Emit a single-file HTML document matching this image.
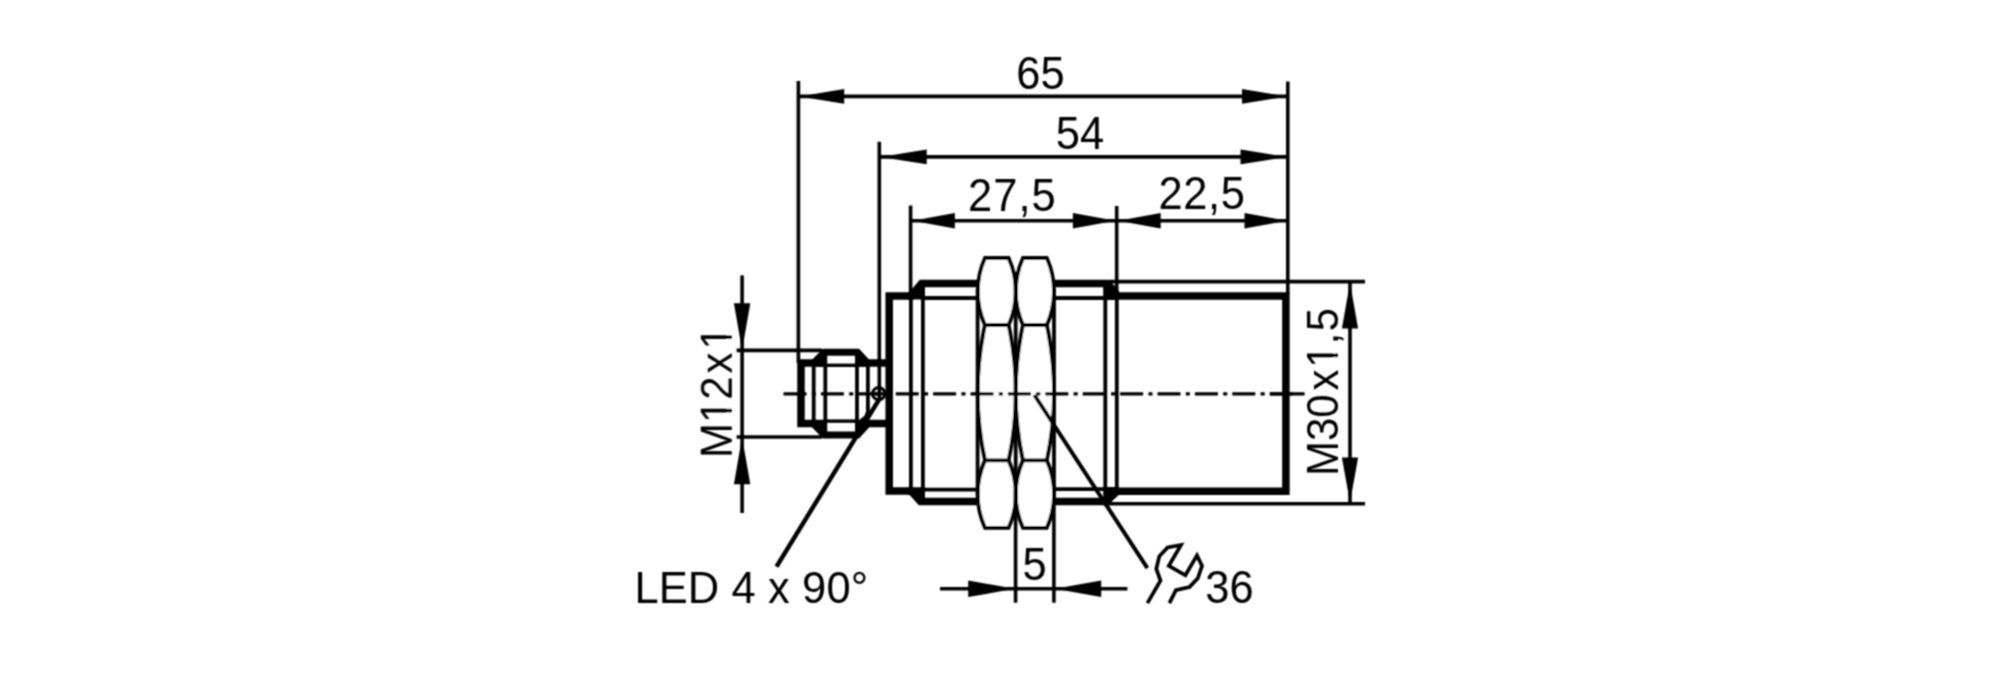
<!DOCTYPE html>
<html><head><meta charset="utf-8"><title>Dimension drawing</title>
<style>
html,body{margin:0;padding:0;background:#fff;}
body{width:2000px;height:675px;overflow:hidden;}
svg{display:block;}
svg text{font-family:"Liberation Sans",Arial,Helvetica,sans-serif;font-size:43.5px;fill:#000;stroke:none;}
</style></head>
<body>
<svg width="2000" height="675" viewBox="0 0 2000 675">
<defs><filter id="soft" x="0" y="0" width="2000" height="675" filterUnits="userSpaceOnUse"><feConvolveMatrix order="3" kernelMatrix="1 2 1 2 4 2 1 2 1" divisor="16" edgeMode="duplicate" preserveAlpha="false"/></filter></defs>
<rect x="0" y="0" width="2000" height="675" fill="#fff"/>
<g filter="url(#soft)">
<g stroke="#000" fill="none" stroke-linecap="butt">
<line x1="798.4" y1="81.1" x2="798.4" y2="363" stroke-width="3.6" />
<line x1="879.3" y1="141.7" x2="879.3" y2="400" stroke-width="3.6" />
<line x1="910.6" y1="205.5" x2="910.6" y2="296" stroke-width="3.6" />
<line x1="1116.7" y1="206" x2="1116.7" y2="296" stroke-width="3.6" />
<line x1="1287.8" y1="81.5" x2="1287.8" y2="294" stroke-width="3.6" />
<line x1="798.4" y1="96.4" x2="1287.8" y2="96.4" stroke-width="3.6" />
<polygon points="799.2,96.4 844.2,89.0 844.2,103.80000000000001" fill="#000" stroke="none"/>
<polygon points="1287,96.4 1242.0,103.80000000000001 1242.0,89.0" fill="#000" stroke="none"/>
<line x1="879.3" y1="156.9" x2="1287.8" y2="156.9" stroke-width="3.6" />
<polygon points="880.2,156.9 926.7,149.5 926.7,164.3" fill="#000" stroke="none"/>
<polygon points="1287,156.9 1240.5,164.3 1240.5,149.5" fill="#000" stroke="none"/>
<line x1="910.8" y1="220.8" x2="1287.8" y2="220.8" stroke-width="3.6" />
<polygon points="912.4,220.8 954.9,213.10000000000002 954.9,228.5" fill="#000" stroke="none"/>
<polygon points="1115.4,220.8 1072.9,228.5 1072.9,213.10000000000002" fill="#000" stroke="none"/>
<polygon points="1118.2,220.8 1160.7,213.10000000000002 1160.7,228.5" fill="#000" stroke="none"/>
<polygon points="1287,220.8 1244.5,228.5 1244.5,213.10000000000002" fill="#000" stroke="none"/>
<polyline points="911,296 889.2,296 889.2,491 911,491" stroke-width="7.5" fill="none" stroke-linejoin="miter"/>
<polyline points="908,296 911,296 921.5,283.6 980,283.6" stroke-width="7.5" fill="none" />
<polyline points="1052,283.6 1106,283.6 1117,295" stroke-width="7.5" fill="none" />
<polyline points="908,491 911,491 920.5,501.4 980,501.4" stroke-width="7.5" fill="none" />
<polyline points="1052,501.5 1106,501.6 1117,491.5" stroke-width="7.5" fill="none" />
<polygon points="908,299.6 908,292.2 911.5,292.2 921.2,280 924.8,280 924.8,299.6" fill="#000" stroke="none"/>
<polygon points="908,487.2 924.8,487.2 924.8,505 919.8,505 909.7,494.6 908,494.6" fill="#000" stroke="none"/>
<polygon points="1103.5,280 1109,280 1118.5,290 1118.5,300 1103.5,300" fill="#000" stroke="none"/>
<polygon points="1103.5,505.2 1108,505.2 1118.5,494 1118.5,487 1103.5,487" fill="#000" stroke="none"/>
<line x1="922.9" y1="298" x2="980" y2="298" stroke-width="3.8" />
<line x1="1052" y1="298" x2="1105" y2="298" stroke-width="3.8" />
<line x1="922.9" y1="489.6" x2="980" y2="489.6" stroke-width="3.8" />
<line x1="1052" y1="489.2" x2="1105" y2="489.2" stroke-width="3.8" />
<line x1="910.9" y1="296" x2="910.9" y2="491" stroke-width="3.8" />
<line x1="922.9" y1="284" x2="922.9" y2="501" stroke-width="3.8" />
<line x1="1105.3" y1="284" x2="1105.3" y2="501" stroke-width="3.8" />
<line x1="1116.8" y1="296" x2="1116.8" y2="491" stroke-width="3.8" />
<polyline points="1113,296 1285.9,296 1285.9,491.2 1113,491.2" stroke-width="7.5" fill="none" stroke-linejoin="miter"/>
<line x1="1108" y1="281.6" x2="1365" y2="281.6" stroke-width="3.6" />
<line x1="1108" y1="503.7" x2="1365" y2="503.7" stroke-width="3.6" />
<line x1="1350" y1="282" x2="1350" y2="503" stroke-width="3.6" />
<polygon points="1350,282.8 1358.1,328.6 1341.9,328.6" fill="#000" stroke="none"/>
<polygon points="1350,502.4 1341.9,457.4 1358.1,457.4" fill="#000" stroke="none"/>
<path d="M985.0,258 L1008.5999999999999,258 A81.5,81.5 0 0 1 1008.5999999999999,325 L985.0,325 A81.5,81.5 0 0 1 985.0,258 Z M985.0,325 A322,322 0 0 0 985.0,460.4 L1008.5999999999999,460.4 A322,322 0 0 0 1008.5999999999999,325 M985.0,460.4 A81.5,81.5 0 0 0 985.0,527.8 L1008.5999999999999,527.8 A81.5,81.5 0 0 0 1008.5999999999999,460.4" fill="#fff" stroke-width="3.8" stroke-linejoin="miter"/>
<path d="M1023.0,258 L1046.8,258 A81.5,81.5 0 0 1 1046.8,325 L1023.0,325 A81.5,81.5 0 0 1 1023.0,258 Z M1023.0,325 A322,322 0 0 0 1023.0,460.4 L1046.8,460.4 A322,322 0 0 0 1046.8,325 M1023.0,460.4 A81.5,81.5 0 0 0 1023.0,527.8 L1046.8,527.8 A81.5,81.5 0 0 0 1046.8,460.4" fill="#fff" stroke-width="3.8" stroke-linejoin="miter"/>
<line x1="977.6" y1="289" x2="977.6" y2="497" stroke-width="3.8" />
<line x1="1015.7" y1="272" x2="1015.7" y2="514" stroke-width="3.8" />
<line x1="1054" y1="289" x2="1054" y2="497" stroke-width="3.8" />
<line x1="783.5" y1="393.85" x2="1293" y2="393.85" stroke-width="3.3" stroke-dasharray="23 5.3 4.1 5"/>
<line x1="1270" y1="393.85" x2="1304.6" y2="393.85" stroke-width="3.3" />
<line x1="736.6" y1="350.4" x2="822" y2="350.4" stroke-width="3.6" />
<line x1="736.6" y1="437" x2="822" y2="437" stroke-width="3.6" />
<line x1="742.1" y1="275.4" x2="742.1" y2="513" stroke-width="3.6" />
<polygon points="742.1,350.2 733.9,303.2 750.3000000000001,303.2" fill="#000" stroke="none"/>
<polygon points="742.1,437.2 750.3000000000001,484.2 733.9,484.2" fill="#000" stroke="none"/>
<polyline points="827,363.1 801,363.1 801,423.4 827,423.4" stroke-width="7.5" fill="none" stroke-linejoin="miter"/>
<line x1="855.5" y1="363.1" x2="889" y2="363.1" stroke-width="7.5" />
<line x1="855.5" y1="423.4" x2="889" y2="423.4" stroke-width="7.5" />
<line x1="825.5" y1="365.3" x2="857" y2="365.3" stroke-width="3.4" />
<line x1="825.5" y1="421.1" x2="857" y2="421.1" stroke-width="3.4" />
<polygon points="812.2,359.6 822.9,348.8 859,348.8 869.1,359.6 869.1,366.7 855.2,366.7 855.2,355.7 827,355.7 827,366.7 812.2,366.7" fill="#000" stroke="none"/>
<polygon points="812.2,427.5 822.9,438.6 859,438.6 869.1,427.5 869.1,420 855.2,420 855.2,431.6 827,431.6 827,420 812.2,420" fill="#000" stroke="none"/>
<line x1="813.7" y1="363" x2="813.7" y2="423.5" stroke-width="3.8" />
<line x1="825.3" y1="352.5" x2="825.3" y2="435" stroke-width="3.8" />
<line x1="857" y1="352.5" x2="857" y2="435" stroke-width="3.8" />
<polyline points="867.9,363 867.9,412 866,417 861,421" stroke-width="3.8" fill="none" />
<circle cx="878.7" cy="393.7" r="6.1" stroke-width="3" fill="none"/>
<line x1="879.0" y1="399.6" x2="776.5" y2="566.6" stroke-width="4.5" />
<line x1="872" y1="393.85" x2="885.5" y2="393.85" stroke-width="3.0" />
<line x1="1034.4" y1="395" x2="1147.4" y2="568.2" stroke-width="4.0" />
<polyline points="1147.4,603.1 1160.5,580.6 1156.3,568.8 1159.3,556.3 1167.6,547.4 1181,545 1168.8,565.8 1185.4,575.3 1197,555.4 1202,565.8 1197.8,578.3 1189.5,587.1 1175.9,590.1 1169.4,603.1" stroke-width="3.7" fill="none" stroke-linejoin="miter" stroke-miterlimit="6"/>
<line x1="1015.6" y1="490" x2="1015.6" y2="602.7" stroke-width="3.6" />
<line x1="1053.9" y1="490" x2="1053.9" y2="602.7" stroke-width="3.6" />
<line x1="940" y1="588.8" x2="1127.4" y2="588.8" stroke-width="3.6" />
<polygon points="1014.6,588.8 968.2,597.0999999999999 968.2,580.5" fill="#000" stroke="none"/>
<polygon points="1054.8,588.8 1101.2,580.5 1101.2,597.0999999999999" fill="#000" stroke="none"/>
</g>
<g>
<text transform="translate(1040.4,89.4) scale(1.0,1.045)" text-anchor="middle" >65</text>
<text transform="translate(1080,148.6) scale(1.0,1.045)" text-anchor="middle" >54</text>
<text transform="translate(1012.4,211.3) scale(1.0,1.045)" text-anchor="middle" letter-spacing="1.1">27,5</text>
<text transform="translate(1202,209.2) scale(1.0,1.045)" text-anchor="middle" letter-spacing="0.6">22,5</text>
<text transform="translate(1034.6,579.8) scale(1.0,1.045)" text-anchor="middle" >5</text>
<text transform="translate(1229.5,603) scale(1.0,1.045)" text-anchor="middle" >36</text>
<text transform="translate(634.4,603) scale(1.0,1.015)" text-anchor="start" letter-spacing="0.12">LED 4 x 90°</text>
<g transform="translate(731.6,458) rotate(-90) scale(0.965,1.02)"><text>M12<tspan dx="3">x</tspan><tspan dx="3">1</tspan></text><rect x="38.63" y="-4.1" width="8.50" height="5.2" fill="#fff"/><rect x="51.03" y="-4.1" width="8.40" height="5.2" fill="#fff"/><rect x="114.77" y="-4.1" width="8.50" height="5.2" fill="#fff"/><rect x="127.17" y="-4.1" width="8.40" height="5.2" fill="#fff"/></g>
<g transform="translate(1338,476) rotate(-90) scale(0.965,1.02)"><text>M30<tspan dx="4">x</tspan><tspan dx="1.8">1,</tspan><tspan dx="1.6">5</tspan></text><rect x="114.57" y="-4.1" width="8.50" height="5.2" fill="#fff"/><rect x="126.97" y="-4.1" width="8.40" height="5.2" fill="#fff"/></g>
</g>
</g>
</svg>
</body></html>
